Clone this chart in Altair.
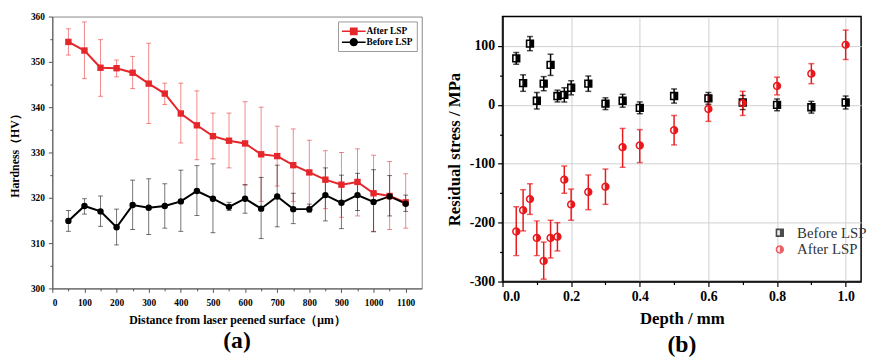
import altair as alt
import pandas as pd

FONT = "Liberation Serif"
RED = "#e5262a"
RED2 = "#e8191c"

# ---------------- (a) Hardness ----------------
dist_um = [50, 100, 150, 200, 250, 300, 350, 400, 450, 500, 550, 600, 650, 700, 750, 800,
           850, 900, 950, 1000, 1050, 1100]
after_hv = [354.4, 352.5, 348.7, 348.6, 347.6, 345.2, 343.0, 338.6, 336.0, 333.6, 332.6, 332.0,
            329.6, 329.2, 327.2, 325.6, 324.0, 322.9, 323.5, 321.0, 320.4, 319.0]
after_lo = [351.5, 346.3, 342.4, 346.7, 344.1, 336.4, 340.6, 332.1, 328.4, 328.6, 326.6, 322.8,
            319.2, 322.6, 319.2, 318.0, 317.6, 315.7, 316.0, 312.6, 313.0, 313.3]
after_hi = [357.3, 358.8, 354.9, 350.4, 351.2, 354.1, 345.3, 345.3, 343.6, 338.7, 338.7, 341.2,
            340.0, 335.8, 335.2, 332.7, 330.4, 330.0, 330.8, 329.4, 328.0, 325.3]
before_hv = [314.9, 318.2, 317.0, 313.5, 318.4, 317.8, 318.2, 319.2, 321.5, 319.8, 318.0, 319.8,
             317.6, 320.3, 317.5, 317.5, 320.6, 318.9, 320.6, 319.1, 320.3, 318.7]
before_lo = [312.6, 316.4, 313.7, 309.6, 313.0, 311.9, 313.3, 312.6, 316.1, 312.3, 317.2, 316.6,
             311.0, 313.6, 314.3, 316.8, 314.9, 313.2, 317.2, 312.5, 316.0, 317.0]
before_hi = [317.2, 319.8, 320.4, 317.5, 323.9, 324.2, 323.1, 326.1, 327.1, 327.5, 319.0, 322.9,
             324.5, 327.2, 321.0, 318.6, 326.6, 325.0, 325.4, 326.2, 324.9, 320.6]

# ---------------- (b) Residual stress ----------------
depth_mm = [0.04, 0.06, 0.08, 0.10, 0.12, 0.14, 0.16, 0.18, 0.20, 0.25, 0.30, 0.35, 0.40,
            0.50, 0.60, 0.70, 0.80, 0.90, 1.00]
rs_before = [79, 37, 104, 7, 36, 68, 15, 17, 29, 36, 2, 7, -5, 15, 11, 4, 0, -4, 4]
rs_before_err = [10, 14, 12, 14, 12, 18, 10, 12, 12, 13, 10, 11, 10, 12, 10, 12, 10, 10, 11]
rs_after = [-215, -179, -160, -226, -265, -226, -224, -127, -169, -148, -139, -72, -69,
            -43, -7, 3, 32, 53, 102]
rs_after_lo = [-256, -214, -186, -256, -296, -260, -248, -150, -196, -178, -169, -106, -98,
               -68, -28, -18, 17, 36, 77]
rs_after_hi = [-173, -144, -134, -197, -233, -196, -200, -104, -143, -119, -109, -40, -42,
               -18, 17, 23, 47, 70, 127]

# ---------- tables ----------
left_df = pd.concat([
    pd.DataFrame({"dist": dist_um, "hv": after_hv, "lo": after_lo, "hi": after_hi,
                  "series": "After LSP"}),
    pd.DataFrame({"dist": dist_um, "hv": before_hv, "lo": before_lo, "hi": before_hi,
                  "series": "Before LSP"}),
], ignore_index=True)

right_df = pd.concat([
    pd.DataFrame({"depth": depth_mm, "rs": rs_before,
                  "rlo": [v - e for v, e in zip(rs_before, rs_before_err)],
                  "rhi": [v + e for v, e in zip(rs_before, rs_before_err)],
                  "cond": "Before LSP"}),
    pd.DataFrame({"depth": depth_mm, "rs": rs_after, "rlo": rs_after_lo, "rhi": rs_after_hi,
                  "cond": "After LSP"}),
], ignore_index=True)

# ---------- symbol paths ----------
SQ_LINE = "M-2,-0.13L2,-0.13L2,0.13L-2,0.13Z M-0.66,-0.66L0.66,-0.66L0.66,0.66L-0.66,0.66Z"
CI_LINE = ("M-2,-0.13L2,-0.13L2,0.13L-2,0.13Z "
           "M-0.7,0A0.7,0.7 0 1,1 0.7,0A0.7,0.7 0 1,1 -0.7,0Z")
HALF_SQ = "M-1,-1L1,-1L1,1L-1,1Z M-0.62,-0.62L-0.62,0.62L0,0.62L0,-0.62Z"
HALF_CI = "M-1,0A1,1 0 1,1 1,0A1,1 0 1,1 -1,0Z M0,-0.64A0.64,0.64 0 0,0 0,0.64Z"

AX_COMMON = dict(labelFont=FONT, titleFont=FONT, labelOverlap=False, labelColor="black",
                 titleColor="black")

# ================= left panel =================
xaxis_l = alt.Axis(
    title="Distance from laser peened surface（μm）",
    values=list(range(0, 1101, 50)),
    labelExpr="datum.value % 100 === 0 ? '' + datum.value : ''",
    tickSize={"condition": {"test": "datum.value % 100 === 0", "value": 4}, "value": 2.5},
    grid=False, labelFontSize=9.5, labelFontWeight="bold",
    labelPadding=5, titleFontSize=12, titleFontWeight="bold", titlePadding=8,
    domainColor="#555", tickColor="#555", **AX_COMMON,
)
yaxis_l = alt.Axis(
    title="Hardness（HV）",
    values=list(range(300, 361, 5)),
    labelExpr="datum.value % 10 === 0 ? '' + datum.value : ''",
    tickSize={"condition": {"test": "datum.value % 10 === 0", "value": 4}, "value": 2.5},
    grid=False, labelFontSize=9.5, labelFontWeight="bold",
    labelPadding=4, titleFontSize=12, titleFontWeight="bold", titlePadding=9,
    domainColor="#555", tickColor="#555", **AX_COMMON,
)
xs_l = alt.Scale(domain=[0, 1150], nice=False, zero=False)
ys_l = alt.Scale(domain=[300, 360], nice=False, zero=False)
cs_l = alt.Scale(domain=["After LSP", "Before LSP"], range=[RED, "black"])

legend_l = alt.Legend(
    orient="top-right", offset=5, title=None,
    strokeColor="#999", fillColor="white", padding=4, rowPadding=0,
    labelFont=FONT, labelFontSize=9.5, labelFontWeight="bold", labelColor="black",
    symbolSize=144, symbolStrokeWidth=0, symbolOffset=6, labelOffset=7,
)

base_l = alt.Chart(left_df)
col_l = alt.Color("series:N", scale=cs_l)
X_L = alt.X("dist:Q", scale=xs_l, axis=xaxis_l)
Y_L = alt.Y("hv:Q", scale=ys_l, axis=yaxis_l)

# legend-only layer: no rows pass the filter, the legend comes from the explicit domains
leg_l = base_l.transform_filter("false").mark_point(filled=True, size=144, opacity=1).encode(
    x=X_L, y=Y_L,
    color=alt.Color("series:N", scale=cs_l, legend=legend_l),
    shape=alt.Shape("series:N", scale=alt.Scale(domain=["After LSP", "Before LSP"],
                                                range=[SQ_LINE, CI_LINE]), legend=legend_l))
rules_l = base_l.mark_rule(strokeWidth=1, opacity=0.55).encode(
    x=X_L, y=alt.Y("lo:Q", scale=ys_l, axis=yaxis_l), y2="hi:Q", color=col_l)
caplo_l = base_l.mark_tick(orient="horizontal", size=5, thickness=1, opacity=0.55).encode(
    x=X_L, y=alt.Y("lo:Q", scale=ys_l, axis=yaxis_l), color=col_l)
caphi_l = base_l.mark_tick(orient="horizontal", size=5, thickness=1, opacity=0.55).encode(
    x=X_L, y=alt.Y("hi:Q", scale=ys_l, axis=yaxis_l), color=col_l)
line_l = base_l.mark_line(strokeWidth=2).encode(x=X_L, y=Y_L, color=col_l)
pts_after = base_l.transform_filter("datum.series === 'After LSP'").mark_point(
    shape="square", filled=True, size=42, opacity=1).encode(x=X_L, y=Y_L, color=col_l)
pts_before = base_l.transform_filter("datum.series === 'Before LSP'").mark_point(
    shape="circle", filled=True, size=42, opacity=1).encode(x=X_L, y=Y_L, color=col_l)

left = alt.layer(leg_l, rules_l, caplo_l, caphi_l, line_l, pts_after, pts_before).properties(
    width=375, height=276,
    view=alt.ViewBackground(stroke="#888", strokeWidth=1),
    title=alt.TitleParams("(a)", orient="bottom", anchor="middle", fontSize=24,
                          font=FONT, fontWeight="bold", offset=4, color="black"),
)

# ================= right panel =================
xvals_r = [round(i * 0.1, 1) for i in range(0, 11)]
major_x = "round(datum.value * 10) % 2 === 0"
xaxis_r = alt.Axis(
    title="Depth / mm", values=xvals_r,
    labelExpr=major_x + " ? format(datum.value, '.1f') : ''",
    tickSize={"condition": {"test": major_x, "value": 5}, "value": 3},
    grid=True, gridColor="#cfcfcf", gridWidth=1,
    gridOpacity={"condition": {"test": major_x, "value": 1}, "value": 0},
    labelFontSize=14, labelFontWeight="bold", labelPadding=3,
    titleFontSize=17, titleFontWeight="bold", titlePadding=8,
    domainColor="black", domainWidth=1.5, tickColor="black", tickWidth=1.2, **AX_COMMON,
)
yvals_r = list(range(-300, 101, 50))
major_y = "datum.value % 100 === 0"
yaxis_r = alt.Axis(
    title="Residual stress / MPa", values=yvals_r,
    labelExpr=major_y + " ? '' + datum.value : ''",
    tickSize={"condition": {"test": major_y, "value": 5}, "value": 3},
    grid=True, gridColor="#cfcfcf", gridWidth=1,
    gridOpacity={"condition": {"test": major_y, "value": 1}, "value": 0},
    labelFontSize=14, labelFontWeight="bold", labelPadding=3,
    titleFontSize=17, titleFontWeight="bold", titlePadding=6,
    domainColor="black", domainWidth=1.5, tickColor="black", tickWidth=1.2, **AX_COMMON,
)
xs_r = alt.Scale(domain=[0, 1.045], nice=False, zero=False)
ys_r = alt.Scale(domain=[-300, 150], nice=False, zero=False)
cs_r = alt.Scale(domain=["Before LSP", "After LSP"], range=["black", RED2])
col_r = alt.Color("cond:N", scale=cs_r)

legend_r = alt.Legend(
    orient="none", legendX=274, legendY=212, title=None, padding=0,
    labelFont=FONT, labelFontSize=15, labelFontWeight="normal", labelColor="#333",
    symbolSize=72, symbolStrokeWidth=0, labelOffset=10, rowPadding=1,
)

base_r = alt.Chart(right_df)
X_R = alt.X("depth:Q", scale=xs_r, axis=xaxis_r)
rules_r = base_r.mark_rule(strokeWidth=1.5).encode(
    x=X_R, y=alt.Y("rlo:Q", scale=ys_r, axis=yaxis_r), y2="rhi:Q", color=col_r)
caplo_r = base_r.mark_tick(orient="horizontal", size=6, thickness=1.5).encode(
    x=X_R, y=alt.Y("rlo:Q", scale=ys_r, axis=yaxis_r), color=col_r)
caphi_r = base_r.mark_tick(orient="horizontal", size=6, thickness=1.5).encode(
    x=X_R, y=alt.Y("rhi:Q", scale=ys_r, axis=yaxis_r), color=col_r)
pts_r = base_r.mark_point(filled=True, size=72, opacity=1, strokeWidth=0).encode(
    x=X_R, y=alt.Y("rs:Q", scale=ys_r, axis=yaxis_r),
    color=alt.Color("cond:N", scale=cs_r, legend=legend_r),
    shape=alt.Shape("cond:N", scale=alt.Scale(domain=["Before LSP", "After LSP"],
                                              range=[HALF_SQ, HALF_CI]), legend=legend_r))

right = alt.layer(rules_r, caplo_r, caphi_r, pts_r).properties(
    width=364, height=269,
    view=alt.ViewBackground(stroke="black", strokeWidth=1.5),
    title=alt.TitleParams("(b)", orient="bottom", anchor="middle", fontSize=24,
                          font=FONT, fontWeight="bold", offset=7, color="black"),
)

chart = alt.hconcat(left, right, spacing=82, bounds="flush").resolve_scale(
    color="independent", shape="independent"
).resolve_legend(
    color="independent", shape="independent"
).properties(padding=0).configure(font=FONT).configure_view(stroke=None)

chart.save("out.html", embed_options={"renderer": "svg", "actions": False})
